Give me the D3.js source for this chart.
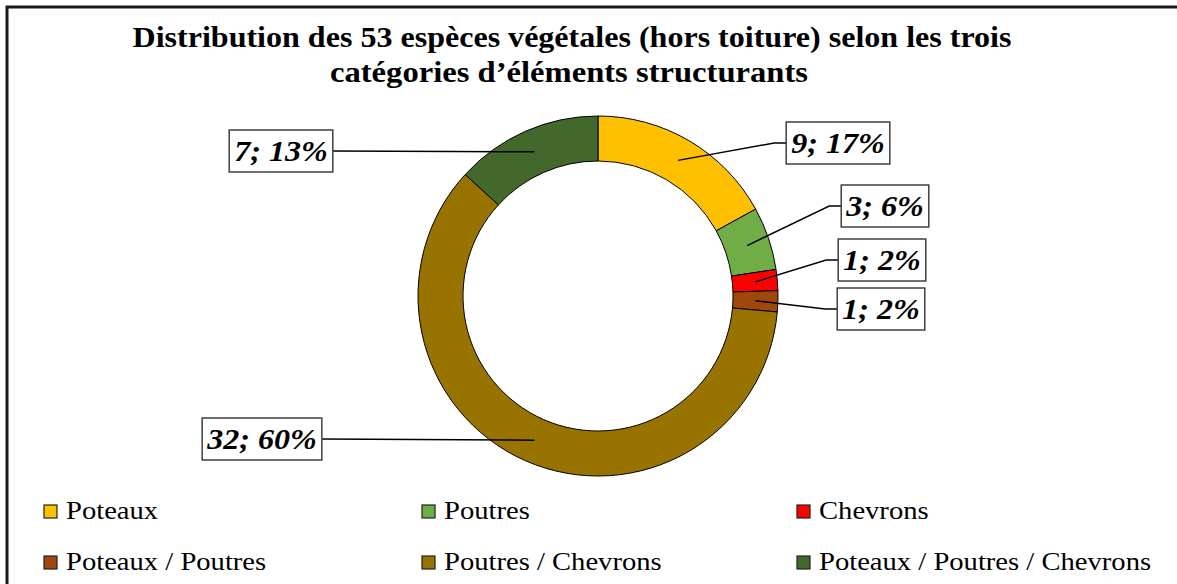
<!DOCTYPE html>
<html>
<head>
<meta charset="utf-8">
<title>Distribution des 53 espèces végétales</title>
<script src="https://d3js.org/d3.v7.min.js"></script>
<style>
  body { margin: 0; background: #fff; }
  svg { display: block; }
</style>
</head>
<body>
<script>
// donnees
var categories = ["Poteaux", "Poutres", "Chevrons", "Poteaux / Poutres", "Poutres / Chevrons", "Poteaux / Poutres / Chevrons"];
var valeurs = [9, 3, 1, 1, 32, 7];
var pourcents = ["17%", "6%", "2%", "2%", "60%", "13%"];
var couleurs = ["#FFC000", "#70AD47", "#FF0000", "#9E480E", "#997300", "#43682B"];
var titre = ["Distribution des 53 espèces végétales (hors toiture) selon les trois",
             "catégories d\u2019éléments structurants"];

// placement des etiquettes (centre des boites), comme dans l'original
var etiquettesPos = [[838, 143], [885, 206], [882, 260], [881, 309], [262, 439], [281, 151]];

var police = "'Liberation Serif'";
var w = 1177, h = 584;
var cx = 598, cy = 296, rExt = 180, rInt = 135;

var svg = d3.select("body").append("svg")
    .attr("width", w)
    .attr("height", h);

// cadre
svg.append("rect")
    .attr("x", 7).attr("y", 7)
    .attr("width", 1200).attr("height", 620)
    .attr("fill", "#fff")
    .attr("stroke", "#1a1a1a")
    .attr("stroke-width", 3);

// titre
var largeursTitre = [879, 478];
svg.selectAll("text.titre")
    .data(titre)
    .enter().append("text")
    .attr("class", "titre")
    .attr("x", function(d, i) { return i == 0 ? 572 : 569; })
    .attr("y", function(d, i) { return 47 + i * 35; })
    .attr("text-anchor", "middle")
    .style("font-family", police)
    .style("font-weight", "bold")
    .style("font-size", "30px")
    .attr("textLength", function(d, i) { return largeursTitre[i]; })
    .attr("lengthAdjust", "spacingAndGlyphs")
    .text(function(d) { return d; });

// anneau
var pie = d3.pie().sort(null).value(function(d) { return d; });
var arcs = pie(valeurs);
var arc = d3.arc().innerRadius(rInt).outerRadius(rExt);

var g = svg.append("g").attr("transform", "translate(" + cx + "," + cy + ")");

g.selectAll("path")
    .data(arcs)
    .enter().append("path")
    .attr("d", arc)
    .attr("fill", function(d, i) { return couleurs[i]; })
    .attr("stroke", "#000")
    .attr("stroke-width", 1);

// lignes de rappel (points calcules apres les boites)
var rappels = svg.selectAll("polyline.rappel")
    .data(arcs)
    .enter().append("polyline")
    .attr("class", "rappel")
    .attr("fill", "none")
    .attr("stroke", "#000")
    .attr("stroke-width", 1.5);

// etiquettes
var etiq = svg.selectAll("g.etiq")
    .data(arcs)
    .enter().append("g")
    .attr("class", "etiq");

var rects = etiq.append("rect")
    .attr("fill", "#fff")
    .attr("stroke", "#404040")
    .attr("stroke-width", 1.5);

var textes = etiq.append("text")
    .attr("x", function(d, i) { return etiquettesPos[i][0]; })
    .attr("y", function(d, i) { return etiquettesPos[i][1] + 10; })
    .attr("text-anchor", "middle")
    .style("font-family", police)
    .style("font-weight", "bold")
    .style("font-style", "italic")
    .style("font-size", "30px")
    .text(function(d, i) { return valeurs[i] + "; " + pourcents[i]; });

textes.each(function(d, i) {
    var l = this.getComputedTextLength() * 1.07;
    d3.select(this).attr("textLength", l).attr("lengthAdjust", "spacingAndGlyphs");
    var bw = l + 10, bh = 42;
    var pos = etiquettesPos[i];
    d3.select(rects.nodes()[i])
        .attr("x", pos[0] - bw / 2)
        .attr("y", pos[1] - bh / 2)
        .attr("width", bw)
        .attr("height", bh);
});

rappels.attr("points", function(d, i) {
    var c = arc.centroid(d);
    var p0 = [cx + c[0], cy + c[1]];
    var pos = etiquettesPos[i];
    var r = rects.nodes()[i];
    var bx = +r.getAttribute("x"), bw = +r.getAttribute("width");
    if (pos[0] > cx) {
        return [p0, [bx - 12, pos[1]], [bx, pos[1]]].join(" ");
    }
    return [p0, [bx + bw, pos[1]]].join(" ");
});

// legende
var colX = [44, 422, 797];
var rowY = [519, 570];
var leg = svg.selectAll("g.leg")
    .data(categories)
    .enter().append("g")
    .attr("class", "leg")
    .attr("transform", function(d, i) {
        return "translate(" + colX[i % 3] + "," + rowY[Math.floor(i / 3)] + ")";
    });

leg.append("rect")
    .attr("x", 0).attr("y", -14)
    .attr("width", 13).attr("height", 13)
    .attr("fill", function(d, i) { return couleurs[i]; })
    .attr("stroke", "#222")
    .attr("stroke-width", 1.2);

leg.append("text")
    .attr("x", 22)
    .attr("y", 0)
    .style("font-family", police)
    .style("font-size", "26px")
    .text(function(d) { return d; })
    .each(function() {
        var l = this.getComputedTextLength() * 1.1;
        d3.select(this).attr("textLength", l).attr("lengthAdjust", "spacingAndGlyphs");
    });
</script>
</body>
</html>
